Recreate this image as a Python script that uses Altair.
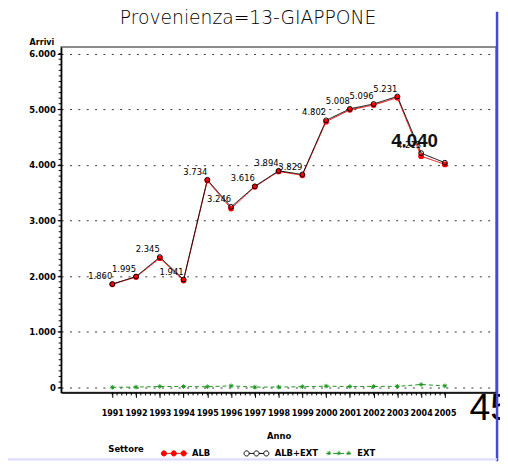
import altair as alt
import pandas as pd
import numpy as np

# ---------------- data ----------------
years = list(range(1991, 2006))
alb_ext = [1860, 1995, 2345, 1941, 3734, 3246, 3616, 3894, 3829, 4802, 5008, 5096, 5231, 4213, 4040]
ext = [5, 8, 20, 18, 15, 30, 8, 10, 15, 25, 18, 20, 22, 55, 30]
alb = [a - e for a, e in zip(alb_ext, ext)]
series_names = ["ALB", "ALB+EXT", "EXT"]
series_colors = ["#ff0000", "#000000", "#1e961e"]
y_ticks = [0, 1000, 2000, 3000, 4000, 5000, 6000]
title_text = "Provenienza=13-GIAPPONE"
corner_text = ["45"]

rows = []
for s, vals in zip(series_names, [alb, alb_ext, ext]):
    for y, v in zip(years, vals):
        rows.append({"year": y, "series": s, "value": v})
df = pd.DataFrame(rows)

W, H = 442, 351
XDOM = [1988.846, 2007.155]
YDOM = [-88, 6118]
FONT = "DejaVu Sans Condensed"

xs = alt.Scale(domain=XDOM, nice=False, zero=False)
ys = alt.Scale(domain=YDOM, nice=False, zero=False)

x_axis = alt.Axis(
    values=years, format="d", title="Anno", grid=False, tickSize=5,
    labelPadding=11, titlePadding=14, labelOverlap=False,
    labelFont=FONT, labelFontSize=9, labelFontWeight="bold", labelColor="black",
    titleFont=FONT, titleFontSize=9.5, titleFontWeight="bold", titleColor="black",
    domainColor="black", domainWidth=1.5, tickColor="black")
y_axis = alt.Axis(
    values=y_ticks, labelExpr="replace(format(datum.value, ','), ',', '.')",
    title="Arrivi", titleAngle=0, titleX=-20, titleY=-1, titleAlign="center",
    titleBaseline="bottom", grid=True, gridDash=[2, 6.5], gridColor="#333",
    gridWidth=1, tickSize=4, labelPadding=2, labelOverlap=False,
    labelFont=FONT, labelFontSize=9.5, labelFontWeight="bold", labelColor="black",
    titleFont=FONT, titleFontSize=9, titleFontWeight="bold", titleColor="black",
    domainColor="black", domainWidth=1.5, tickColor="black")

x_enc = alt.X("year:Q", scale=xs, axis=x_axis)
y_enc = alt.Y("value:Q", scale=ys, axis=y_axis)

base = alt.Chart(df).encode(x=x_enc, y=y_enc)

def circ(cx, r):
    return f"M{cx - r:.3f},0A{r},{r} 0 1,0 {cx + r:.3f},0A{r},{r} 0 1,0 {cx - r:.3f},0Z"

def star(cx, a):
    d = a * 0.7
    return (f"M{cx - a:.3f},0L{cx + a:.3f},0M{cx:.3f},{-a:.3f}L{cx:.3f},{a:.3f}"
            f"M{cx - d:.3f},{-d:.3f}L{cx + d:.3f},{d:.3f}M{cx - d:.3f},{d:.3f}L{cx + d:.3f},{-d:.3f}")

# one shared legend for every channel encoding the series
leg = alt.Legend(title="Settore", orient="none", legendX=48, legendY=399, direction="horizontal",
                 titleOrient="left", titleAnchor="middle", titleBaseline="middle",
                 gridAlign="all", columnPadding=6, symbolSize=676,
                 symbolStrokeWidth=1, symbolOpacity=1, labelOffset=5, titlePadding=16,
                 labelFont=FONT, labelFontSize=9.5, labelFontWeight="bold", labelColor="black",
                 titleFont=FONT, titleFontSize=9.5, titleFontWeight="bold", titleColor="black")

color_scale = alt.Scale(domain=series_names, range=series_colors)
dash_scale = alt.Scale(domain=series_names, range=[[1, 0], [1, 0], [4, 3]])

lines = base.mark_line(strokeWidth=1).encode(
    color=alt.Color("series:N", scale=color_scale, legend=leg),
    strokeDash=alt.StrokeDash("series:N", scale=dash_scale, legend=leg),
)

pts_alb = base.transform_filter(alt.datum.series == "ALB").mark_circle(size=34, color="#ff0000", opacity=1)
pts_tot = base.transform_filter(alt.datum.series == "ALB+EXT").mark_point(
    shape="circle", size=24, color="#000000", strokeWidth=1, filled=False, opacity=1)
pts_ext = base.transform_filter(alt.datum.series == "EXT").mark_point(
    shape=star(0, 1), size=22, color="#1e961e", strokeWidth=1, filled=False, opacity=1)

labels = base.transform_filter((alt.datum.series == "ALB+EXT") & (alt.datum.year < 2005)).transform_calculate(
    label="replace(format(datum.value, ','), ',', '.')").mark_text(
    align="right", baseline="middle", dy=-8, font=FONT, fontSize=9.5, color="black"
).encode(text="label:N")

big_label = base.transform_filter((alt.datum.series == "ALB+EXT") & (alt.datum.year == 2005)).transform_calculate(
    label="replace(format(datum.value, ','), ',', '.')").mark_text(
    align="right", baseline="middle", dx=-7, dy=-22, font="Liberation Sans",
    fontSize=19, fontWeight="bold", color="#111"
).encode(text="label:N")

# minor ticks (share the same axis definitions)
ymin = pd.DataFrame({"value": np.arange(0, 6001, 100)})
y_minor = alt.Chart(ymin).mark_rule(color="black", strokeWidth=1).encode(
    y=alt.Y("value:Q", scale=ys, axis=y_axis), x=alt.value(-2.5), x2=alt.value(0))
xmin = pd.DataFrame({"year": np.round(np.arange(1991, 2005.01, 0.2), 2)})
x_minor = alt.Chart(xmin).mark_rule(color="black", strokeWidth=1).encode(
    x=alt.X("year:Q", scale=xs, axis=x_axis), y=alt.value(H), y2=alt.value(H + 3))

# legend symbols layer (marks invisible, legend symbols visible)
path_alb = "M-1,0L1,0" + "".join(circ(c, 0.2) for c in (-0.77, 0, 0.77))
path_tot = "M-0.57,0L-0.2,0M0.2,0L0.57,0" + "".join(circ(c, 0.2) for c in (-0.77, 0, 0.77))
path_ext = "M-1,0L1,0" + "".join(star(c, 0.2) for c in (-0.77, 0, 0.77))
legend_layer = base.transform_filter(alt.datum.year == 1991).mark_point(
    filled=True, size=676, strokeWidth=1, opacity=0).encode(
    fill=alt.Fill("series:N", scale=alt.Scale(domain=series_names, range=["#ff0000", "#ffffff", "#1e961e"]), legend=leg),
    stroke=alt.Stroke("series:N", scale=color_scale, legend=leg),
    shape=alt.Shape("series:N", scale=alt.Scale(domain=series_names, range=[path_alb, path_tot, path_ext]), legend=leg),
)

# decorations
one = pd.DataFrame({"t": corner_text})
corner = alt.Chart(one).mark_text(align="left", baseline="alphabetic", fontSize=38,
                                  font="Liberation Sans", color="black").encode(
    text="t:N", x=alt.value(415), y=alt.value(379))
blue_v = alt.Chart(one).mark_rule(color="#4646e0", strokeWidth=2.5).encode(
    x=alt.value(443), y=alt.value(-36), y2=alt.value(421))
blue_h = alt.Chart(one).mark_rule(color="#dcdcff", strokeWidth=2.5).encode(
    x=alt.value(-54), x2=alt.value(443), y=alt.value(419))

chart = alt.layer(
    lines, pts_alb, pts_tot, pts_ext, labels, big_label, y_minor, x_minor,
    legend_layer, corner, blue_v, blue_h
).properties(
    width=W, height=H,
    background="white",
    autosize=alt.AutoSizeParams(type="none"),
    padding={"left": 54, "top": 36, "right": 4, "bottom": 70},
    title=alt.TitleParams(title_text, font="DejaVu Sans", fontSize=19, fontWeight=200,
                          anchor="middle", dx=-31, offset=-18, color="black"),
).configure_view(stroke="#666", strokeWidth=1.5)

chart.save("out.html", embed_options={"renderer": "svg", "actions": False})
